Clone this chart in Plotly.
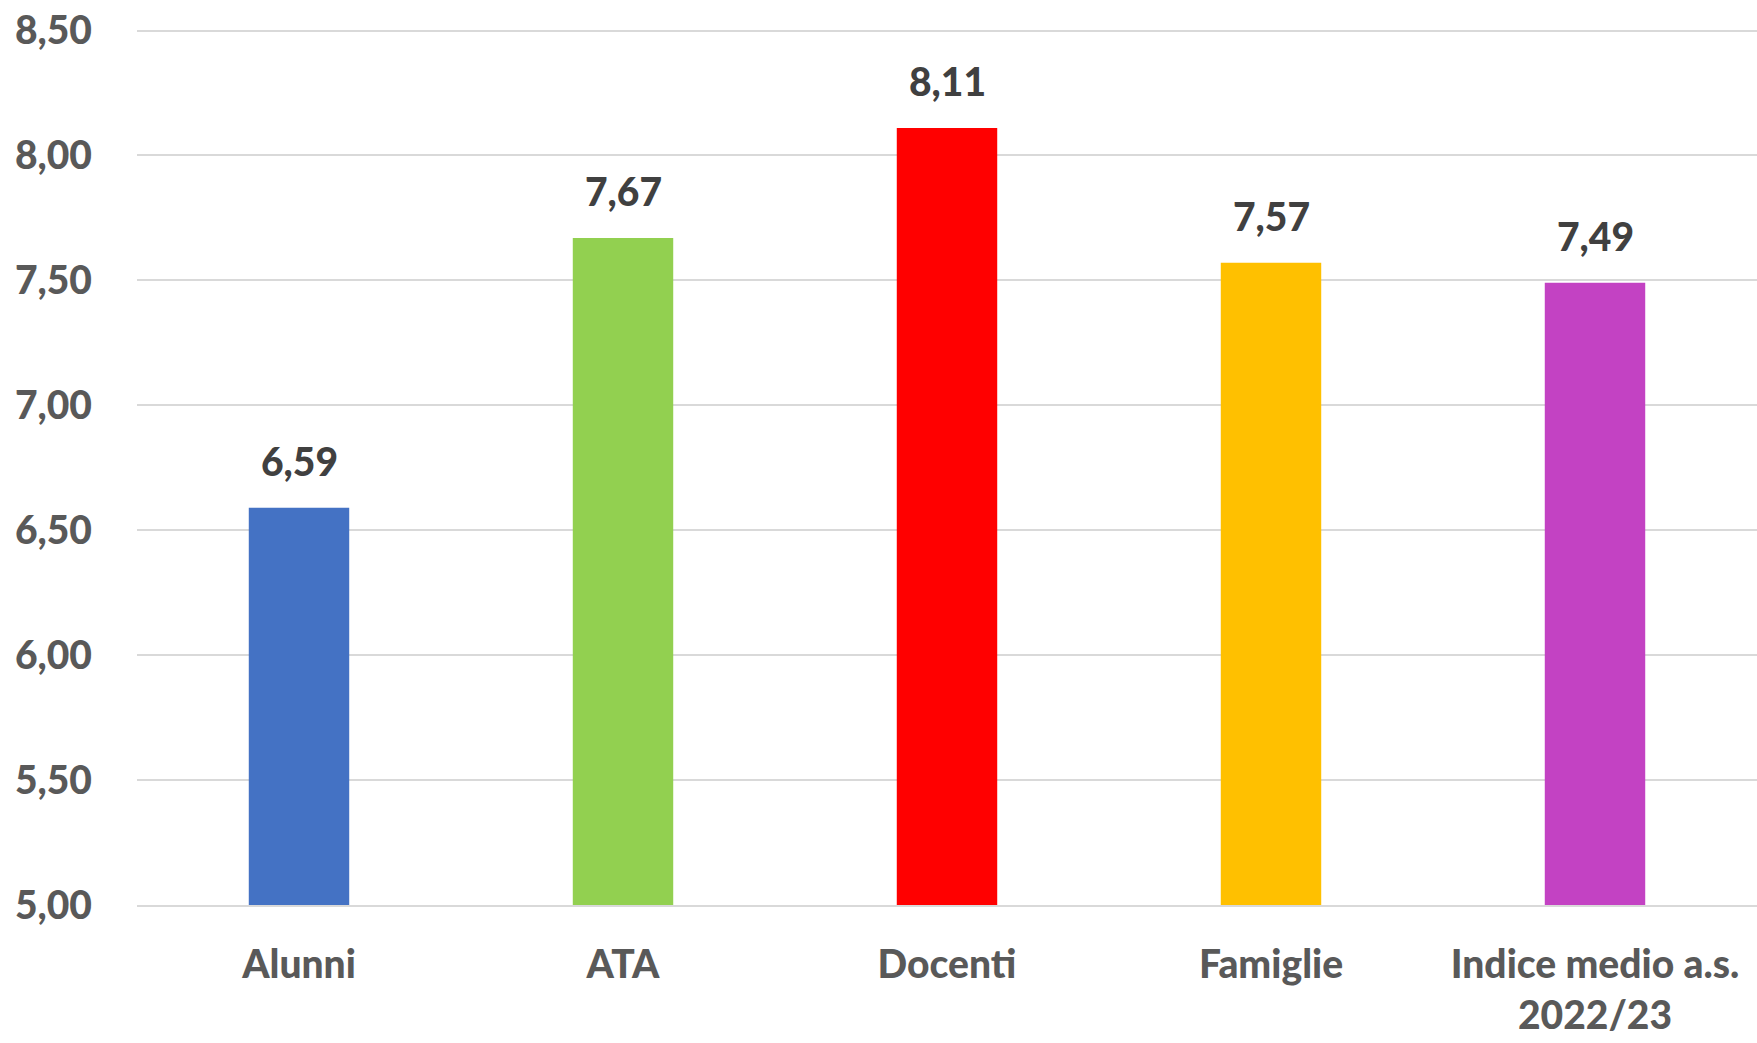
import plotly.graph_objects as go

categories = ["Alunni", "ATA", "Docenti", "Famiglie", "Indice medio a.s.<br>2022/23"]
values = [6.59, 7.67, 8.11, 7.57, 7.49]
colors = ["#4472C4", "#92D050", "#FF0000", "#FFC000", "#C342C3"]
y_ticks = [5.0, 5.5, 6.0, 6.5, 7.0, 7.5, 8.0, 8.5]

FONT = "Lato"

fig = go.Figure()
fig.add_trace(go.Bar(
    x=categories, y=values, marker=dict(color=colors, line=dict(width=0)),
    width=0.31, showlegend=False, hoverinfo="skip",
))

for c, v in zip(categories, values):
    fig.add_annotation(
        x=c, y=v, text=f"{v:.2f}".replace(".", ","), showarrow=False,
        yanchor="bottom", yshift=22,
        font=dict(family=FONT, size=39, color="#404040", weight=900),
    )

fig.update_layout(
    width=1757, height=1043,
    margin=dict(l=137, r=0, t=29, b=138),
    paper_bgcolor="white", plot_bgcolor="white",
    separators=",.",
)
fig.update_yaxes(
    range=[5, 8.506], tickvals=y_ticks, tickformat=".2f", automargin=False,
    showgrid=True, gridcolor="#D9D9D9", gridwidth=2, zeroline=False,
    showline=False, ticks="", ticklabelstandoff=44, ticklabeloverflow="allow",
    tickfont=dict(family=FONT, size=39, color="#595959", weight=900),
)
fig.update_xaxes(
    showline=True, linecolor="#D9D9D9", linewidth=2, ticks="", automargin=False,
    showgrid=False, ticklabelstandoff=24, ticklabeloverflow="allow",
    tickfont=dict(family=FONT, size=39, color="#595959", weight=900),
)

fig.write_html("out.html", config={"displayModeBar": False},
               post_script="document.body.style.margin='0';")
